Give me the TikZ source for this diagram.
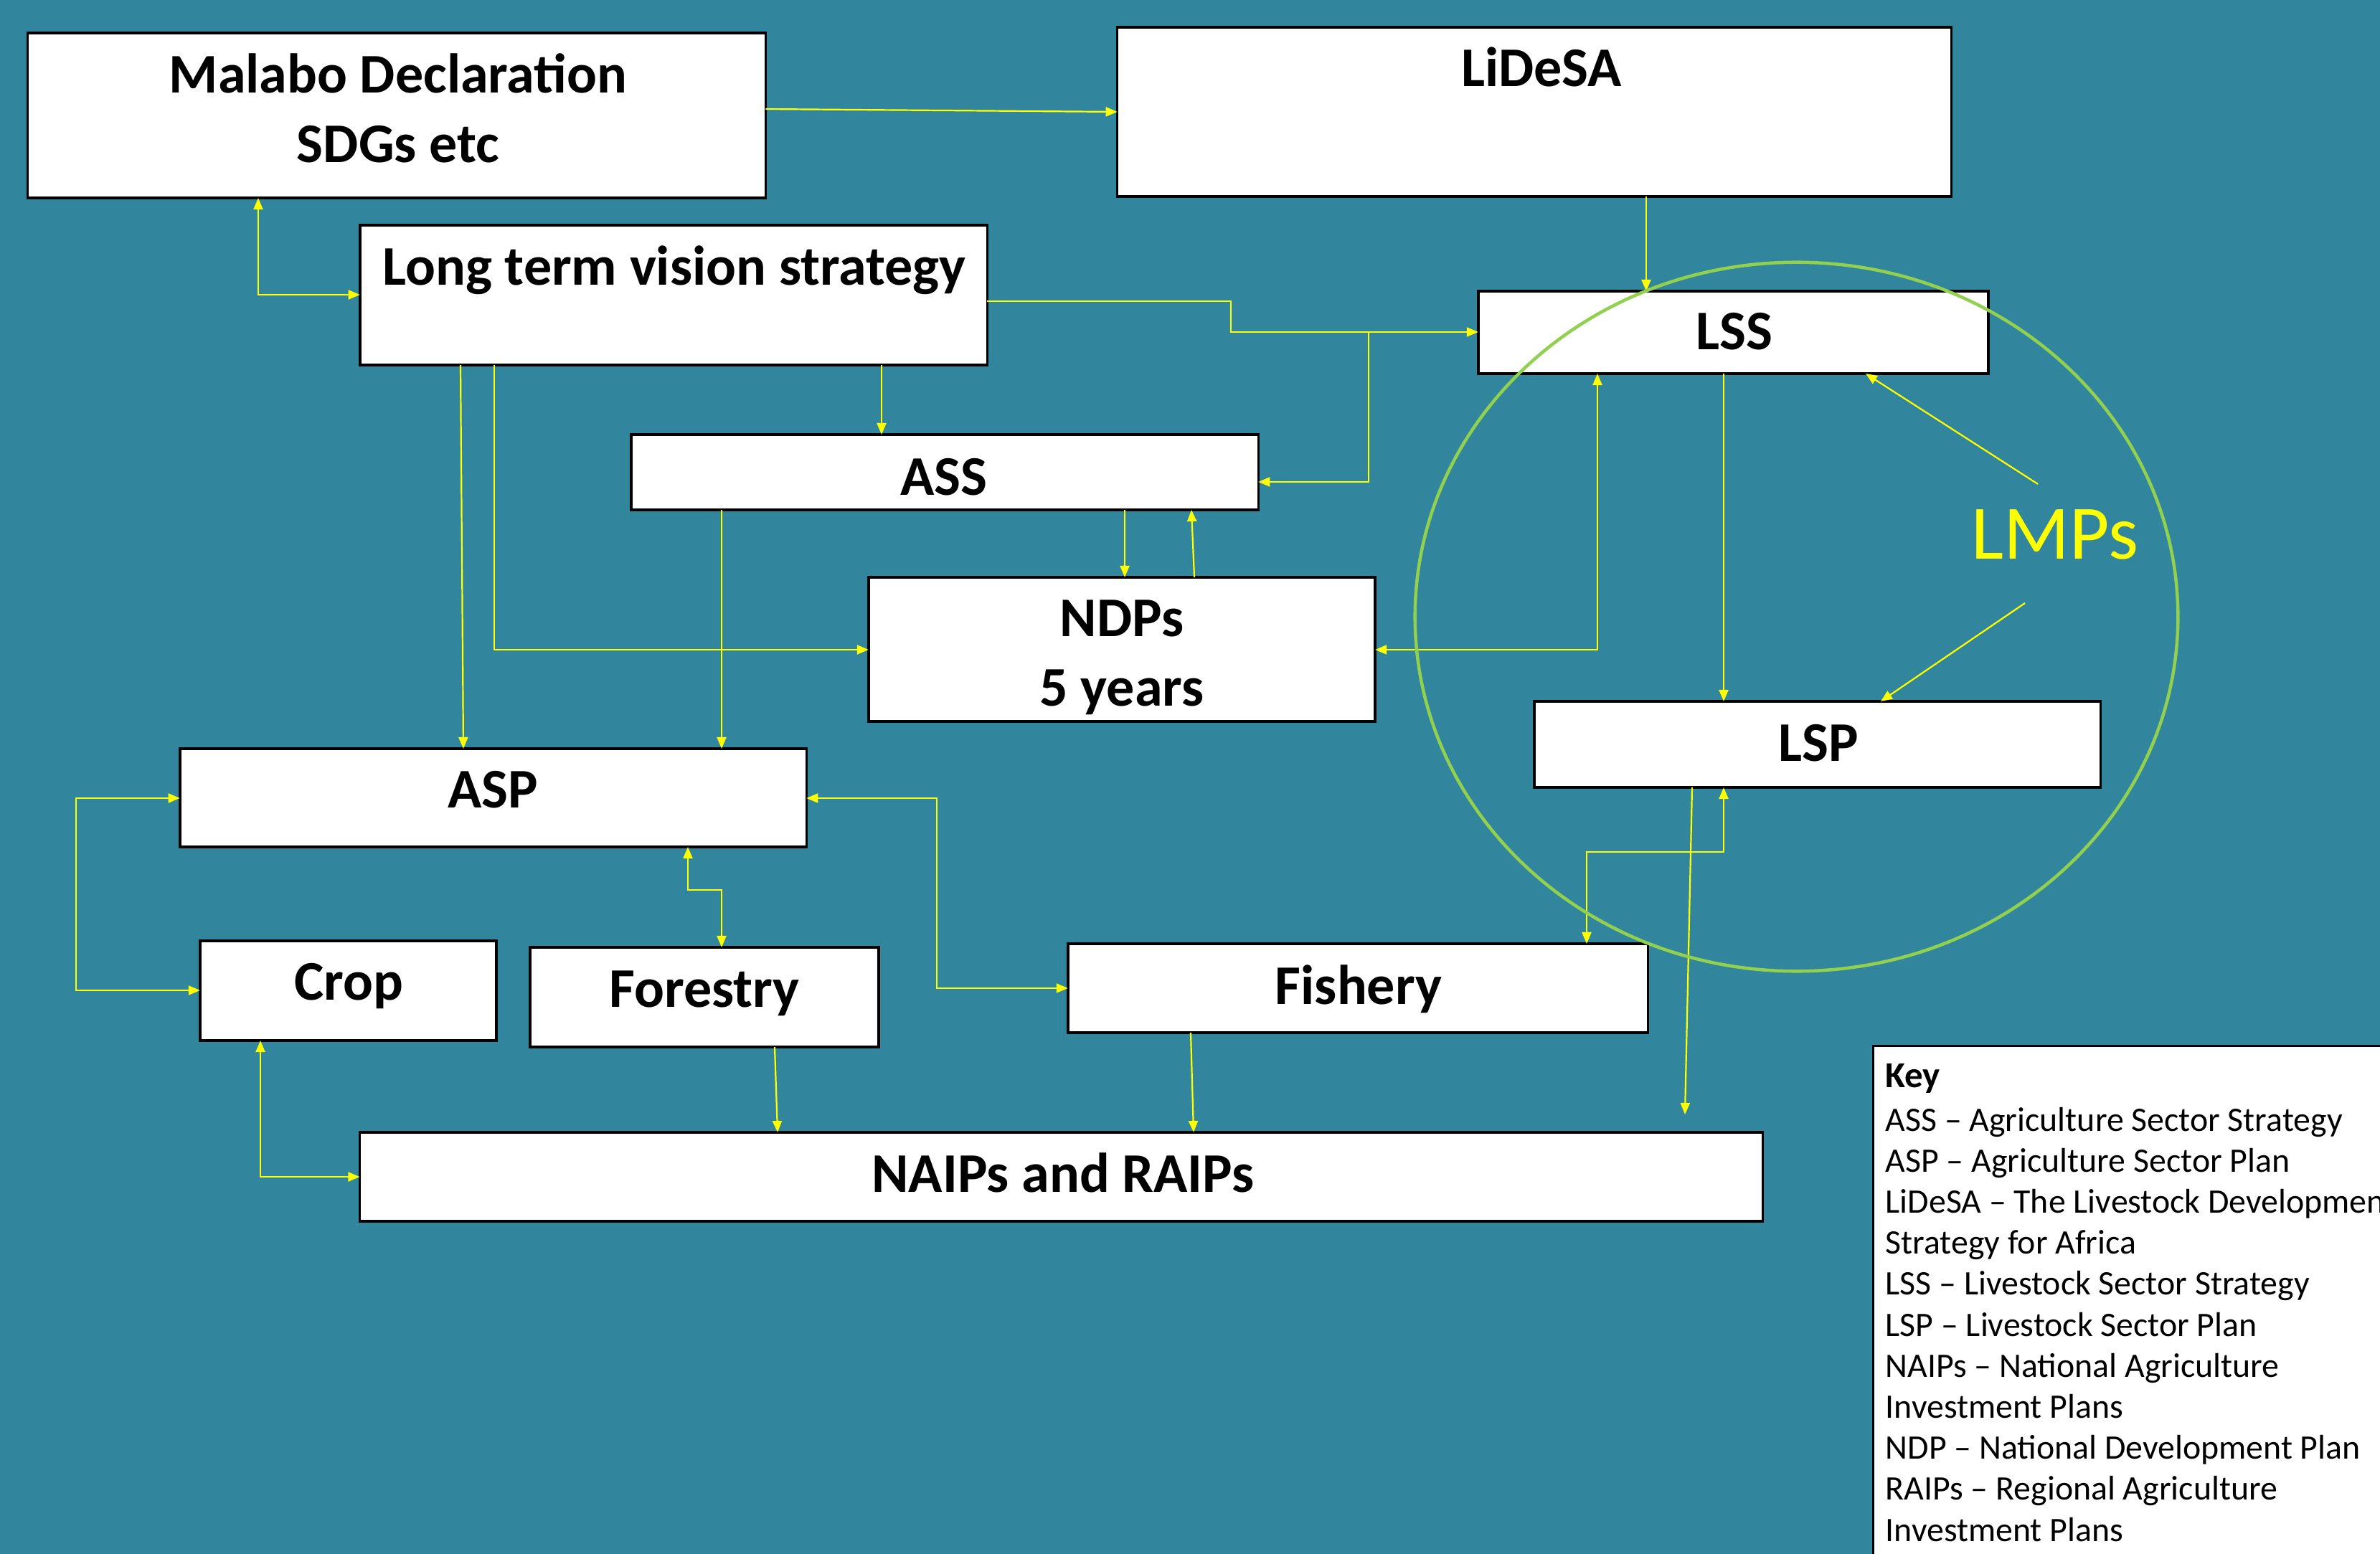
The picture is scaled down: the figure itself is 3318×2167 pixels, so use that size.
\documentclass[tikz,border=0pt]{standalone}
\usepackage{fontspec}
\setmainfont{Carlito}
\usetikzlibrary{arrows.meta,shapes.geometric}
\definecolor{bg}{RGB}{49,133,156}
\definecolor{lmpgreen}{RGB}{146,208,80}
\definecolor{yel}{RGB}{255,255,0}
\tikzset{
  box/.style={draw=black, fill=white, line width=0.035cm, inner sep=0pt, outer sep=0pt},
  btxt/.style={anchor=base, inner sep=0pt, font=\fontsize{22.2}{27}\selectfont\bfseries},
  ktxt/.style={anchor=base west, inner sep=0pt, font=\fontsize{13.6}{16}\selectfont},
  arr/.style={draw=yel, line width=0.022cm, -{Triangle[length=0.16cm,width=0.13cm]}},
  darr/.style={draw=yel, line width=0.022cm, {Triangle[length=0.16cm,width=0.13cm]}-{Triangle[length=0.16cm,width=0.13cm]}}
}
\begin{document}
\begin{tikzpicture}[x=0.01cm,y=-0.01cm]
\useasboundingbox (0,0) rectangle (3318,2167);
\clip (0,0) rectangle (3318,2167);
\fill[bg] (0,0) rectangle (3318,2167);

% boxes
\node[box, minimum width=10.28cm, minimum height=2.30cm] (malabo) at (553,161) {};
\node[box, minimum width=11.62cm, minimum height=2.36cm] (lidesa) at (2139,156) {};
\node[box, minimum width=8.74cm, minimum height=1.95cm] (ltvs) at (939,411.5) {};
\node[box, minimum width=7.11cm, minimum height=1.15cm] (lss) at (2416.5,463.5) {};
\node[box, minimum width=7.89cm, minimum height=1.20cm] (lsp) at (2533.5,1038) {};
\node[box, minimum width=8.74cm, minimum height=1.05cm] (ass) at (1317,658.5) {};
\node[box, minimum width=7.06cm, minimum height=2.01cm] (ndps) at (1564,905.5) {};
\node[box, minimum width=8.73cm, minimum height=1.37cm] (asp) at (687.5,1112.5) {};
\node[box, minimum width=4.13cm, minimum height=1.39cm] (crop) at (485.5,1381.5) {};
\node[box, minimum width=4.86cm, minimum height=1.39cm] (forestry) at (982,1390.5) {};
\node[box, minimum width=8.08cm, minimum height=1.24cm] (fishery) at (1893,1378) {};
\node[box, minimum width=19.55cm, minimum height=1.24cm] (naips) at (1479.5,1641) {};
\node[box, line width=0.03cm, minimum width=7.88cm, minimum height=7.91cm] (key) at (3006,1854.5) {};

% box texts
\node[btxt] (malabo-t1) at (555,130) {Malabo Declaration};
\node[btxt] (malabo-t2) at (555,227) {SDGs etc};
\node[btxt] (lidesa-t) at (2149,121) {LiDeSA};
\node[btxt] (ltvs-t) at (940,398) {Long term vision strategy};
\node[btxt] (lss-t) at (2418,488) {LSS};
\node[btxt] (lsp-t) at (2535,1061) {LSP};
\node[btxt] (ass-t) at (1316,690) {ASS};
\node[btxt] (ndps-t1) at (1564,887) {NDPs};
\node[btxt] (ndps-t2) at (1564,984) {5 years};
\node[btxt] (asp-t) at (687,1126) {ASP};
\node[btxt] (crop-t) at (486,1394) {Crop};
\node[btxt] (forestry-t) at (982,1404) {Forestry};
\node[btxt] (fishery-t) at (1894,1400) {Fishery};
\node[btxt] (naips-t) at (1482,1662) {NAIPs and RAIPs};
\node[anchor=base, inner sep=0pt, text=yel, font=\fontsize{30.5}{36}\selectfont] (lmps) at (2865,779) {LMPs};

% key
\node[ktxt, font=\fontsize{14.5}{17}\selectfont\bfseries] (k0) at (2628,1516) {Key};
\foreach \t [count=\i from 0] in {ASS – Agriculture Sector Strategy, ASP – Agriculture Sector Plan, LiDeSA – The Livestock Development, Strategy for Africa, LSS – Livestock Sector Strategy, LSP – Livestock Sector Plan, NAIPs – National Agriculture, Investment Plans, NDP – National Development Plan, RAIPs – Regional Agriculture, Investment Plans}
  \node[ktxt] (k\i-line) at (2628,1577+57.2*\i) {\t};

% connectors
\coordinate (lmpA) at (2841,675);
\coordinate (lmpB) at (2823,841);
\coordinate (lspend) at (2349,1554);

\draw[arr] (malabo.east |- 0,152) -- (lidesa.west |- 0,156);
\draw[darr] (360,0 |- malabo.south) -- (360,411) -- (ltvs.west |- 0,411);
\draw[arr] (ltvs.east |- 0,420) -- (1716,420) -- (1716,463) -- (lss.west |- 0,463);
\draw[arr] (1908,463) -- (1908,672) -- (ass.east |- 0,672);
\draw[arr] (2295,0 |- lidesa.south) -- (2295,0 |- lss.north);
\draw[arr] (1229,0 |- ltvs.south) -- (1229,0 |- ass.north);
\draw[arr] (642,0 |- ltvs.south) -- (646,0 |- asp.north);
\draw[arr] (689,0 |- ltvs.south) -- (689,906) -- (ndps.west |- 0,906);
\draw[arr] (1006,0 |- ass.south) -- (1006,0 |- asp.north);
\draw[arr] (1568,0 |- ass.south) -- (1568,0 |- ndps.north);
\draw[arr] (1665,0 |- ndps.north) -- (1661,0 |- ass.south);
\draw[darr] (2227,0 |- lss.south) -- (2227,906) -- (ndps.east |- 0,906);
\draw[arr] (2403,0 |- lss.south) -- (2403,0 |- lsp.north);
\draw[arr] (lmpA) -- (2601,0 |- lss.south);
\draw[arr] (lmpB) -- (2622,0 |- lsp.north);
\draw[arr] (2359,0 |- lsp.south) -- (lspend);
\draw[darr] (2403,0 |- lsp.south) -- (2403,1188) -- (2212,1188) -- (2212,0 |- fishery.north);
\draw[darr] (asp.east |- 0,1113) -- (1306,1113) -- (1306,1378) -- (fishery.west |- 0,1378);
\draw[darr] (959,0 |- asp.south) -- (959,1241) -- (1006,1241) -- (1006,0 |- forestry.north);
\draw[darr] (asp.west |- 0,1113) -- (106,1113) -- (106,1381) -- (crop.west |- 0,1381);
\draw[darr] (363,0 |- crop.south) -- (363,1641) -- (naips.west |- 0,1641);
\draw[arr] (1080,0 |- forestry.south) -- (1084,0 |- naips.north);
\draw[arr] (1660,0 |- fishery.south) -- (1664,0 |- naips.north);

% LMP ellipse
\node[draw=lmpgreen, line width=0.045cm, ellipse, inner sep=0pt, minimum width=10.63cm, minimum height=9.88cm] (lmpring) at (2504.5,860) {};
\end{tikzpicture}
\end{document}
